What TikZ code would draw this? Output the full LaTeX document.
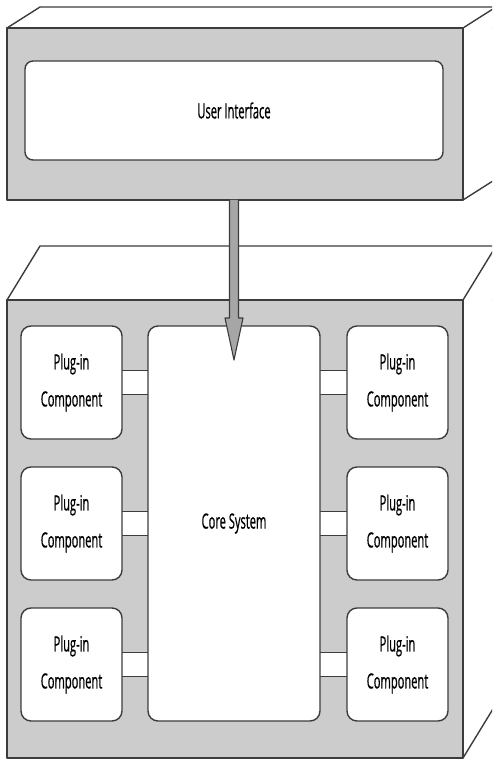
\documentclass[tikz,border=0pt]{standalone}
\usepackage{fontspec}
\newfontfamily\condfont[FakeStretch=0.53,FakeBold=0.6]{Open Sans}
\usetikzlibrary{calc}
\definecolor{edge}{HTML}{3C3C3C}
\definecolor{facegray}{HTML}{CCCCCC}
\definecolor{arrowgray}{HTML}{A6A6A6}
\tikzset{
  outline/.style={draw=edge, line width=1.4pt, line join=round},
  faceside/.style={outline, fill=white},
  facefront/.style={outline, fill=facegray},
  card/.style={outline, fill=white, rounded corners=10pt, inner sep=0pt,
    font=\condfont\fontsize{21}{37}\selectfont, align=center, text=black},
  pluginbox/.style={card, minimum width=101pt, minimum height=113pt},
  barfill/.style={fill=white},
  barline/.style={draw=edge, line width=1.4pt},
}
\begin{document}
\begin{tikzpicture}[x=1pt,y=-1pt]
\useasboundingbox (0,0) rectangle (492,759);
\clip (0,0) rectangle (492,759);
% ---------- upper block ----------
\path[faceside] (7,28) -- (40,7) -- (560,7) -- (529,28) -- cycle;
\path[faceside] (463,28) -- (529,-14) -- (529,158) -- (463,200) -- cycle;
\path[facefront] (7,28) rectangle (463,200);
\node[card, rounded corners=8pt, minimum width=418pt, minimum height=99pt] (ui) at (234,110.5) {User Interface};
% ---------- lower block ----------
\path[faceside] (7,300) -- (40,246) -- (560,246) -- (529,300) -- cycle;
\path[faceside] (463,300) -- (529,192) -- (529,650) -- (463,758) -- cycle;
\path[facefront] (7,300) rectangle (463,758);
% bars (drawn first, boxes on top)
\foreach \r/\yc in {1/382.5, 2/523.5, 3/664.5}{
  \coordinate (lb\r t) at (118,\yc-12);
  \coordinate (lb\r b) at (152,\yc+12);
  \fill[barfill] (lb\r t) rectangle (lb\r b);
  \draw[barline] (lb\r t) -- (lb\r t -| lb\r b) (lb\r b -| lb\r t) -- (lb\r b);
  \coordinate (rb\r t) at (316,\yc-12);
  \coordinate (rb\r b) at (351,\yc+12);
  \fill[barfill] (rb\r t) rectangle (rb\r b);
  \draw[barline] (rb\r t) -- (rb\r t -| rb\r b) (rb\r b -| rb\r t) -- (rb\r b);
}
\node[card, minimum width=172pt, minimum height=395pt] (core) at (234,523.5) {Core System};
\node[pluginbox] (pl1) at (71.5,382.5) {Plug-in\\Component};
\node[pluginbox] (pl2) at (71.5,523.5) {Plug-in\\Component};
\node[pluginbox] (pl3) at (71.5,664.5) {Plug-in\\Component};
\node[pluginbox] (pr1) at (397.5,382.5) {Plug-in\\Component};
\node[pluginbox] (pr2) at (397.5,523.5) {Plug-in\\Component};
\node[pluginbox] (pr3) at (397.5,664.5) {Plug-in\\Component};
% ---------- arrow ----------
\coordinate (astart) at (234,200);
\coordinate (atip) at (234,360);
\coordinate (ahead) at (234,318);
\path[outline, line width=1.1pt, fill=arrowgray]
  ($(astart)+(-4.5,0)$) -- ($(ahead)+(-4.5,0)$) -- ($(ahead)+(-9,0)$)
  -- (atip) -- ($(ahead)+(9,0)$) -- ($(ahead)+(4.5,0)$) -- ($(astart)+(4.5,0)$);
\end{tikzpicture}
\end{document}
